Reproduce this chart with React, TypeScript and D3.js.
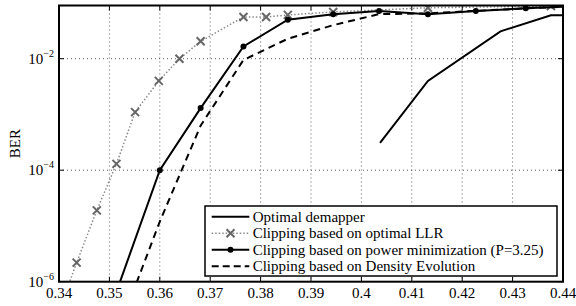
import { useEffect } from "react";
import * as d3 from "d3";

// x values (SNR-like parameter) and BER for each curve
const xTicks = [0.34, 0.35, 0.36, 0.37, 0.38, 0.39, 0.4, 0.41, 0.42, 0.43, 0.44];
const yTicks = [1e-6, 1e-4, 1e-2];
const yGrid = [1e-4, 1e-2];

const xOpt = [0.4037, 0.4132, 0.4276, 0.4376, 0.44];
const berOpt = [3.1e-4, 4e-3, 0.031, 0.06, 0.06];

const xLLR = [0.3405, 0.3435, 0.3475, 0.3514, 0.3551, 0.3598, 0.3639, 0.3681, 0.3766, 0.3811, 0.3854, 0.3944, 0.4132, 0.4376];
const berLLR = [4e-7, 2.2e-6, 1.9e-5, 1.3e-4, 1.1e-3, 4e-3, 1e-2, 2.05e-2, 0.056, 0.056, 0.061, 0.069, 0.082, 0.088];

const xPow = [0.3515, 0.36, 0.3681, 0.3766, 0.3854, 0.3944, 0.4035, 0.4132, 0.4227, 0.4326, 0.4425];
const berPow = [7e-7, 1e-4, 1.3e-3, 0.0166, 0.05, 0.063, 0.072, 0.063, 0.072, 0.08, 0.088];

const xDE = [0.352, 0.36, 0.3681, 0.3766, 0.3854, 0.3944, 0.4035, 0.4132, 0.4227, 0.4326, 0.44];
const berDE = [1.5e-7, 1.2e-5, 6.3e-4, 9.5e-3, 0.0228, 0.04, 0.063, 0.065, 0.072, 0.08, 0.085];

const legendLabels = [
  "Optimal demapper",
  "Clipping based on optimal LLR",
  "Clipping based on power minimization (P=3.25)",
  "Clipping based on Density Evolution",
];

const W = 576;
const H = 306;
const left = 59;
const right = 563;
const top = 5.5;
const bottom = 281.7;
const FONT = "'Liberation Serif', 'Times New Roman', serif";

export default function App() {
  useEffect(() => {
    document.body.style.margin = "0";
  }, []);

  const x = d3.scaleLinear().domain([0.34, 0.44]).range([left, right]);
  const y = d3.scaleLog().domain([1e-6, 0.09]).range([bottom, top]);

  const line = (xs: number[], ys: number[]) =>
    d3.line<number>().x((_, i) => x(xs[i])).y((d) => y(d))(ys) || "";

  const cross = (cx: number, cy: number, key: string | number) => {
    const s = 4;
    return (
      <path
        key={key}
        d={`M${cx - s},${cy - s}L${cx + s},${cy + s}M${cx - s},${cy + s}L${cx + s},${cy - s}`}
        stroke="#666"
        strokeWidth={2}
      />
    );
  };

  const gray = "#8a8a8a";
  const legX = 205;
  const legY = 206;
  const legW = 352;
  const legH = 70;
  const rowY = (i: number) => legY + 10.7 + i * 16.5;

  return (
    <svg width={W} height={H} style={{ display: "block" }} fontFamily={FONT}>
      <defs>
        <clipPath id="plot">
          <rect x={left} y={top} width={right - left} height={bottom - top} />
        </clipPath>
      </defs>
      <rect width={W} height={H} fill="#fff" />

      {/* grid */}
      <g stroke="#333" strokeWidth={0.8} strokeDasharray="1,3">
        {xTicks.slice(1, -1).map((t) => (
          <line key={t} x1={x(t)} x2={x(t)} y1={top} y2={bottom} />
        ))}
        {yGrid.map((t) => (
          <line key={t} x1={left} x2={right} y1={y(t)} y2={y(t)} />
        ))}
      </g>

      {/* curves */}
      <g clipPath="url(#plot)" fill="none">
        <path d={line(xLLR, berLLR)} stroke={gray} strokeWidth={1.5} strokeDasharray="1.5,2" />
        {xLLR.map((v, i) => cross(x(v), y(berLLR[i]), "c" + i))}
        <path d={line(xOpt, berOpt)} stroke="#000" strokeWidth={2} />
        <path d={line(xDE, berDE)} stroke="#000" strokeWidth={2} strokeDasharray="7,5" />
        <path d={line(xPow, berPow)} stroke="#000" strokeWidth={2} />
        {xPow.map((v, i) => (
          <circle key={"p" + i} cx={x(v)} cy={y(berPow[i])} r={3} fill="#000" />
        ))}
      </g>

      {/* ticks */}
      <g stroke="#000" strokeWidth={1}>
        {xTicks.map((t) => (
          <g key={t}>
            <line x1={x(t)} x2={x(t)} y1={bottom} y2={bottom - 5} />
            <line x1={x(t)} x2={x(t)} y1={top} y2={top + 5} />
          </g>
        ))}
        {yTicks.map((t) => (
          <g key={t}>
            <line x1={left} x2={left + 5} y1={y(t)} y2={y(t)} />
            <line x1={right} x2={right - 5} y1={y(t)} y2={y(t)} />
          </g>
        ))}
      </g>

      {/* frame */}
      <rect x={left} y={top} width={right - left} height={bottom - top} fill="none" stroke="#000" strokeWidth={2} />

      {/* tick labels */}
      <g fontSize={15} fill="#000">
        {xTicks.map((t) => (
          <text key={t} x={x(t)} y={298} textAnchor="middle">
            {d3.format("")(+t.toFixed(2))}
          </text>
        ))}
        {yTicks.map((t) => (
          <text key={t} x={right} y={y(t) + 5} textAnchor="end" transform={`translate(${left - 5 - right},0)`}>
            10
            <tspan fontSize={10} dy={-7}>
              {"\u2212" + Math.round(-Math.log10(t))}
            </tspan>
          </text>
        ))}
        <text transform={`translate(20,${(top + bottom) / 2}) rotate(-90)`} textAnchor="middle">
          BER
        </text>
      </g>

      {/* legend */}
      <g>
        <rect x={legX} y={legY} width={legW} height={legH} fill="#fff" stroke="#000" strokeWidth={1.5} />
        <line x1={211.7} x2={249.3} y1={rowY(0)} y2={rowY(0)} stroke="#000" strokeWidth={2} />
        <line x1={211.7} x2={249.3} y1={rowY(1)} y2={rowY(1)} stroke={gray} strokeWidth={1.5} strokeDasharray="1.5,2" />
        {cross(230.5, rowY(1), "lc")}
        <line x1={211.7} x2={249.3} y1={rowY(2)} y2={rowY(2)} stroke="#000" strokeWidth={2} />
        <circle cx={230.5} cy={rowY(2)} r={3} fill="#000" />
        <line x1={211.7} x2={249.3} y1={rowY(3)} y2={rowY(3)} stroke="#000" strokeWidth={2} strokeDasharray="7,4" />
        {legendLabels.map((l, i) => (
          <text key={l} x={252.7} y={rowY(i) + 5} fontSize={15} fill="#000">
            {l}
          </text>
        ))}
      </g>
    </svg>
  );
}
